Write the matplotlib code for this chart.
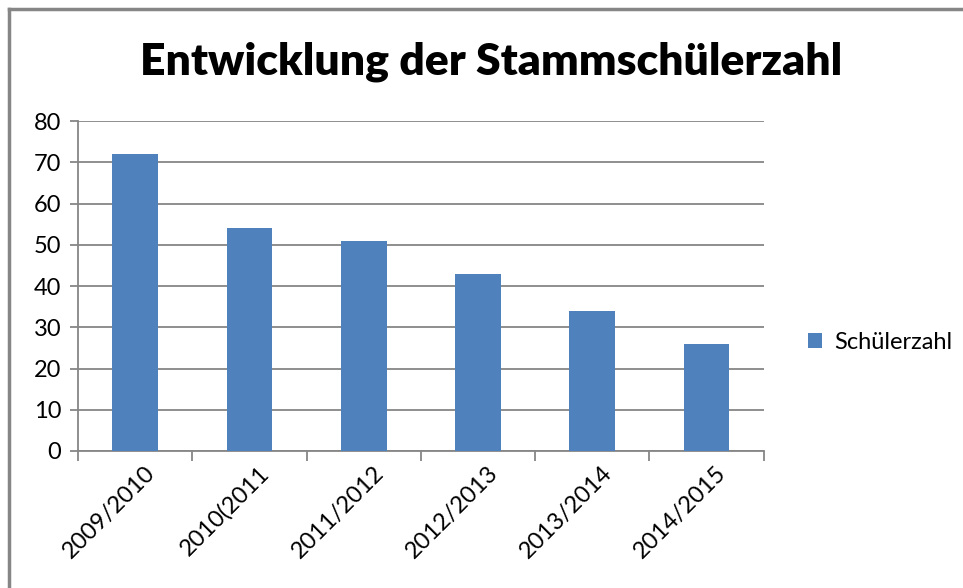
import matplotlib.pyplot as plt
import matplotlib.transforms as mtransforms
from matplotlib.lines import Line2D
import numpy as np

plt.rcParams['font.family'] = ['Lato', 'DejaVu Sans']

jahre = ['2009/2010', '2010(2011', '2011/2012', '2012/2013', '2013/2014', '2014/2015']
schueler = [72, 54, 51, 43, 34, 26]

fig = plt.figure(figsize=(9.63, 5.88), dpi=100)
ax = fig.add_axes([0.081, 0.233, 0.712, 0.561])

x = np.arange(len(jahre))
ax.bar(x, schueler, width=0.4, color='#4F81BD', label='Schülerzahl', zorder=3)

ax.set_xlim(-0.5, len(jahre) - 0.5)
ax.set_ylim(0, 80)
ax.set_yticks(range(0, 81, 10))
ax.yaxis.grid(True, color='#868686', linewidth=1.3, zorder=0)

for s in ['top', 'right']:
    ax.spines[s].set_visible(False)
for s in ['left', 'bottom']:
    ax.spines[s].set_color('#868686')
    ax.spines[s].set_linewidth(1.3)

ax.tick_params(axis='y', direction='out', length=6, width=1.3, color='#868686',
               labelsize=17, pad=6)
ax.set_xticks(x)
ax.set_xticklabels(jahre, rotation=45, ha='right', rotation_mode='anchor', fontsize=17)
ax.tick_params(axis='x', which='major', length=0, pad=8)
ax.set_xticks(np.arange(-0.5, len(jahre)), minor=True)
ax.tick_params(axis='x', which='minor', direction='out', length=7, width=1.3, color='#868686')
verschiebung = mtransforms.ScaledTranslation(0.09, 0, fig.dpi_scale_trans)
for lab in ax.get_xticklabels():
    lab.set_transform(lab.get_transform() + verschiebung)

fig.text(0.51, 0.895, 'Entwicklung der Stammschülerzahl', ha='center', va='center',
         fontsize=32, fontweight='heavy')

fig.legend(loc='center left', bbox_to_anchor=(0.817, 0.418), frameon=False,
           fontsize=17, handlelength=0.6, handleheight=0.6, handletextpad=0.5)

# Rahmen oben und links
fig.add_artist(Line2D([9 / 963, 1], [1 - 9 / 588, 1 - 9 / 588], transform=fig.transFigure,
                      color='#868686', linewidth=2.5))
fig.add_artist(Line2D([9 / 963, 9 / 963], [0, 1 - 9 / 588], transform=fig.transFigure,
                      color='#868686', linewidth=2.5))

fig.savefig('out.png', dpi=100)
